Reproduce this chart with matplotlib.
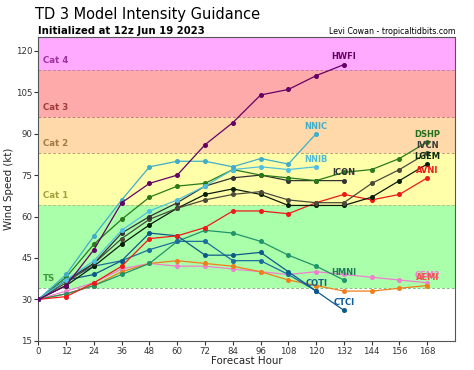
"""TD 3 model intensity guidance chart."""

import matplotlib

matplotlib.use("Agg")

import matplotlib.pyplot as plt

hours = [0, 12, 24, 36, 48, 60, 72, 84, 96, 108, 120, 132, 144, 156, 168]

hwfi = [30, 35, 48, 65, 72, 75, 86, 94, 104, 106, 111, 115]
nnic = [30, 39, 53, 66, 78, 80, 80, 78, 81, 79, 90]
nnib = [30, 37, 44, 55, 62, 66, 71, 77, 78, 77, 78]
icon = [30, 37, 43, 54, 60, 65, 71, 74, 75, 73, 73, 73]
dshp = [30, 38, 50, 59, 67, 71, 72, 77, 75, 74, 73, 76, 77, 81, 87]
ivcn = [30, 36, 43, 52, 59, 63, 66, 68, 69, 66, 65, 65, 72, 77, 83]
lgem = [30, 35, 42, 50, 57, 63, 68, 70, 68, 64, 64, 64, 67, 73, 79]
avni = [30, 31, 36, 42, 52, 53, 56, 62, 62, 61, 65, 68, 66, 68, 74]
hmni = [30, 32, 35, 39, 43, 51, 55, 54, 51, 46, 42, 37]
coti = [30, 37, 42, 44, 48, 51, 51, 44, 44, 39, 33]
ctci = [30, 37, 39, 44, 54, 53, 46, 46, 47, 40, 33, 26]
cem2 = [30, 33, 36, 41, 43, 42, 42, 41, 40, 39, 40, 39, 38, 37, 36]
aemi = [30, 32, 35, 40, 43, 44, 43, 42, 40, 37, 35, 33, 33, 34, 35]

# (name, values, line colour, label colour)
models = [
    ("CEM2", cem2, "#f07fd0", "#f07fd0"),
    ("AEMI", aemi, "#f07f1a", "#f05050"),
    ("HMNI", hmni, "#22946a", "#1f7a5a"),
    ("COTI", coti, "#1a6fa0", "#1a5f8a"),
    ("CTCI", ctci, "#0d5a8a", "#0d5a9a"),
    ("AVNI", avni, "#ee1a1a", "#ee1a1a"),
    ("LGEM", lgem, "#0a1f0a", "#0a2a0a"),
    ("IVCN", ivcn, "#4a4a3a", "#3a3a3a"),
    ("ICON", icon, "#333333", "#333333"),
    ("DSHP", dshp, "#2a7a1a", "#1f6f1f"),
    ("NNIB", nnib, "#50c0e0", "#50b8d8"),
    ("NNIC", nnic, "#40aec8", "#40aec8"),
    ("HWFI", hwfi, "#660066", "#660066"),
]

# (label, lower, upper, fill, dash colour, text colour)
bands = [
    ("TS", 34, 64, "#aaffaa", "#7fbf7f", "#3a9a3a"),
    ("Cat 1", 64, 83, "#ffffaa", "#bfbf7f", "#a0a040"),
    ("Cat 2", 83, 96, "#ffd9aa", "#bf9f7f", "#a07a40"),
    ("Cat 3", 96, 113, "#ffaaaa", "#bf7f7f", "#a03a3a"),
    ("Cat 4", 113, 137, "#ffaaff", "#bf7fbf", "#a030a0"),
]

fig = plt.figure(figsize=(4.74, 3.7), dpi=100)
ax = fig.add_axes([0.081, 0.079, 0.879, 0.821])

for label, lo, hi, fill, dash, tcolor in bands:
    ax.axhspan(lo, hi, color=fill, zorder=0, lw=0)
    ax.axhline(lo, color=dash, ls=(0, (3, 2)), lw=0.7, zorder=1)
    ax.text(2, lo + 3.6, label, color=tcolor, fontsize=6.2, fontweight="bold",
            ha="left", va="center", zorder=2)

for name, values, color, lcolor in models:
    x = hours[: len(values)]
    ax.plot(x, values, color=color, lw=0.9, marker="o", markersize=2.6,
            markerfacecolor=color, markeredgecolor=color, zorder=3)
    ax.annotate(name, (x[-1], values[-1]), xytext=(0, 5.5), textcoords="offset points",
                ha="center", va="center", fontsize=6, fontweight="bold",
                color=lcolor, zorder=4)

ax.set_xlim(0, 180)
ax.set_ylim(15, 125)
ax.set_xticks(hours)
ax.set_yticks(range(15, 121, 15))
ax.tick_params(labelsize=6.2, colors="#333333", length=3, pad=1.5)
for spine in ax.spines.values():
    spine.set_color("#555555")
ax.set_xlabel("Forecast Hour", fontsize=7.4, color="#222222", labelpad=0)
ax.set_ylabel("Wind Speed (kt)", fontsize=7.4, color="#222222", labelpad=1)

fig.text(0.074, 0.962, "TD 3 Model Intensity Guidance", fontsize=10.5,
         ha="left", va="center")
fig.text(0.081, 0.917, "Initialized at 12z Jun 19 2023", fontsize=7.3,
         fontweight="bold", ha="left", va="center")
fig.text(0.96, 0.915, "Levi Cowan - tropicaltidbits.com", fontsize=5.7,
         ha="right", va="center")

fig.savefig("out.png", dpi=100)
